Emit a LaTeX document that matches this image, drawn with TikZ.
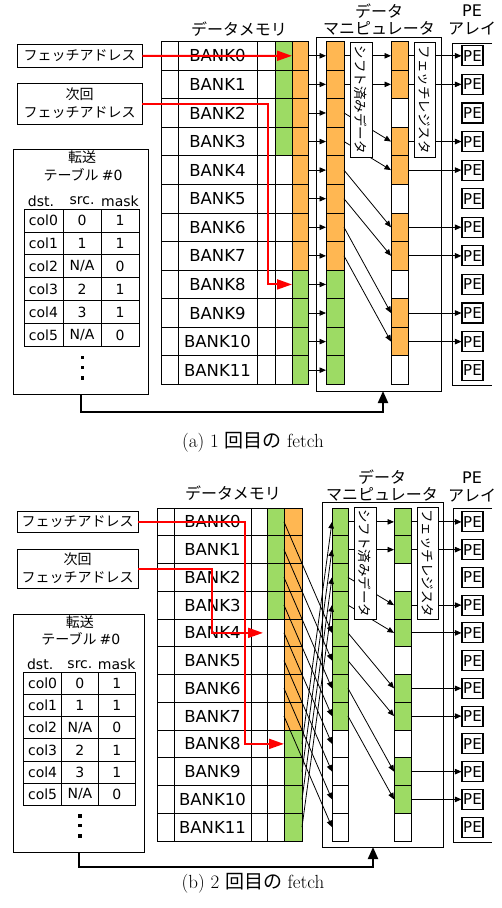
\documentclass[tikz,border=0pt]{standalone}
\usepackage{fontspec}
\setmainfont{DejaVu Sans}
\newfontfamily\jp{Noto Sans CJK JP}
\newfontfamily\capfont{Latin Modern Roman}
\usetikzlibrary{arrows.meta,calc}
\definecolor{org}{RGB}{255,183,82}
\definecolor{grn}{RGB}{157,219,100}
\newcommand\fs[1]{\fontsize{#1}{#1}\selectfont}
\def\na{N/A}
\tikzset{
  cell/.style={draw, line width=0.8pt, inner sep=0pt, outer sep=0pt, anchor=north west},
  arr/.style={line width=0.8pt, -{Triangle[length=6.5pt,width=5.5pt]}},
  redarr/.style={red, line width=2pt, -{Triangle[length=15pt,width=10pt]}},
  fbarr/.style={line width=2pt, -{Triangle[length=12pt,width=10pt]}},
  jbox/.style={draw, line width=0.9pt, fill=white, inner sep=0pt, font=\jp\fs{14}},
  vbox/.style={draw, line width=0.9pt, fill=white, inner sep=0pt, rotate=-90, font=\jp\fs{13.5}},
  pebox/.style={draw, line width=1.1pt, inner sep=0pt, minimum width=21pt, minimum height=20pt, font=\fs{15}},
  title/.style={font=\jp\fs{16}, inner sep=0pt, align=center},
  title2/.style={font=\jp\fontsize{16}{17.5}\selectfont, inner sep=0pt, align=center},
  ttxt/.style={font=\fs{14}, inner sep=0pt},
  captxt/.style={font=\capfont\fs{19}, inner sep=0pt},
}
\newcommand\xfer[3]{%
\begin{scope}[shift={(13,#2)},x=#3pt,y=-#3pt]
  \node[draw, line width=0.9pt, anchor=north west, inner sep=0pt, minimum width=#3*135pt, minimum height=#3*245pt] (#1-tt) at (0,0) {};
  \node[font=\jp\fs{14}, inner sep=0pt] (#1-tt1) at (69,8) {転送};
  \node[font=\jp\fs{14}, inner sep=0pt] (#1-tt2) at (70,26) {テーブル {\rmfamily\#0}};
  \node[ttxt] (#1-h1) at (28,52) {dst.};
  \node[ttxt] (#1-h2) at (69,52) {src.};
  \node[ttxt] (#1-h3) at (107,52) {mask};
  \draw[line width=0.8pt] (11,60) rectangle (126,197.4);
  \foreach \i in {1,...,5} \draw[line width=0.8pt] (11,60+22.9*\i) -- (126,60+22.9*\i);
  \draw[line width=0.8pt] (50,60) -- (50,197.4);
  \draw[line width=0.8pt] (88,60) -- (88,197.4);
  \foreach \i/\s/\m in {0/0/1,1/1/1,2/\na/0,3/2/1,4/3/1,5/\na/0}{
    \node[ttxt] (#1-c\i) at (30.5,71.45+22.9*\i) {col\i};
    \node[ttxt] (#1-s\i) at (69,71.45+22.9*\i) {\s};
    \node[ttxt] (#1-m\i) at (107,71.45+22.9*\i) {\m};
  }
  \fill (67.5,206.5) rectangle (71,210);
  \fill (67.5,216.5) rectangle (71,220);
  \fill (67.5,227) rectangle (71,230.5);
\end{scope}}
\begin{document}
\begin{tikzpicture}[x=1pt,y=-1pt]
\useasboundingbox (0,0) rectangle (502,908);
%%%%%%%%%%%%%%%% (a)
\node[title] (a-t1) at (239,29) {データメモリ};
\node[title2] (a-t2) at (379,19.5) {データ\\マニピュレータ};
\node[title2, font=\fontsize{16}{17.5}\selectfont] (a-t3) at (472,20) {PE\\{\jp アレイ}};
\node[draw, line width=0.9pt, anchor=north west, inner sep=0pt, minimum width=125pt, minimum height=354pt] (a-mb) at (316,37) {};
\draw[line width=0.9pt] (492,43) -- (452,43) -- (452,385) -- (492,385);
\foreach \r in {0,...,11}{
  \pgfmathsetmacro\yy{41.5+28.58*\r}
  \pgfmathtruncatemacro\mm{mod(\r,3)}
  \ifnum\r<4 \def\gc{grn}\else\def\gc{white}\fi
  \ifnum\r<8 \def\oc{org}\else\def\oc{grn}\fi
  \ifnum\mm=2 \def\qc{white}\else\def\qc{org}\fi
  \node[cell, minimum width=17pt, minimum height=28.58pt] (a-n-\r) at (161,\yy) {};
  \node[cell, minimum width=79pt, minimum height=28.58pt, font=\fs{16.5}] (a-b-\r) at (178,\yy) {BANK\r};
  \node[cell, minimum width=18pt, minimum height=28.58pt] (a-e-\r) at (257,\yy) {};
  \node[cell, fill=\gc, minimum width=17pt, minimum height=28.58pt] (a-g-\r) at (275,\yy) {};
  \node[cell, fill=\oc, minimum width=16pt, minimum height=28.58pt] (a-o-\r) at (292,\yy) {};
  \node[cell, fill=\oc, minimum width=18pt, minimum height=28.58pt] (a-p-\r) at (326,\yy) {};
  \node[cell, fill=\qc, minimum width=17pt, minimum height=28.58pt] (a-q-\r) at (391,\yy) {};
  \node[pebox] (a-pe-\r) at (472.5,\yy+14.29) {PE};
}
\foreach \r in {0,...,11} \draw[arr] (a-o-\r.east) -- (a-p-\r.west);
\foreach \s/\d in {0/0,1/1,2/3,3/4,4/6,5/7,6/9,7/10} \draw[arr] (a-p-\s.east) -- (a-q-\d.west);
\foreach \d in {0,1,3,4,6,7,9,10} \draw[arr] (a-q-\d.east) -- (a-pe-\d.west);
\node[vbox, minimum width=115pt, minimum height=22pt] (a-sh) at (361,99.5) {シフト済みデータ};
\node[vbox, minimum width=115pt, minimum height=21pt] (a-fr) at (424.5,99.5) {フェッチレジスタ};
\node[jbox, minimum width=125pt, minimum height=23pt] (a-f) at (79.5,55.8) {フェッチアドレス};
\node[jbox, minimum width=125pt, minimum height=41pt, align=center, font=\jp\fontsize{14}{18}\selectfont] (a-nf) at (79.5,103.5) {次回\\フェッチアドレス};
\xfer{a}{149}{1}
\coordinate (a-fb) at (383,391);
\draw[fbarr] (a-tt.south) |- (383,412) -- (a-fb);
\draw[redarr] (a-f.east) -- (a-o-0.west);
\draw[redarr] (a-nf.east) -| (268,200) |- (a-o-8.west);
\node[captxt] (a-cap) at (253,442) {(a) 1 {\jp 回目の} fetch};
%%%%%%%%%%%%%%%% (b)
\node[title] (b-t1) at (233,493) {データメモリ};
\node[title2] (b-t2) at (382,485.5) {データ\\マニピュレータ};
\node[title2, font=\fontsize{16}{17.5}\selectfont] (b-t3) at (472,487) {PE\\{\jp アレイ}};
\node[draw, line width=0.9pt, anchor=north west, inner sep=0pt, minimum width=121pt, minimum height=345pt] (b-mb) at (322,502) {};
\draw[line width=0.9pt] (492,508) -- (453,508) -- (453,842) -- (492,842);
\foreach \r in {0,...,11}{
  \pgfmathsetmacro\yy{508+27.75*\r}
  \pgfmathtruncatemacro\mm{mod(\r,3)}
  \ifnum\r<4 \def\gc{grn}\else\def\gc{white}\fi
  \ifnum\r<8 \def\oc{org}\def\pc{grn}\else\def\oc{grn}\def\pc{white}\fi
  \ifnum\mm=2 \def\qc{white}\else\def\qc{grn}\fi
  \node[cell, minimum width=17pt, minimum height=27.75pt] (b-n-\r) at (157,\yy) {};
  \node[cell, minimum width=77pt, minimum height=27.75pt, font=\fs{16.5}] (b-b-\r) at (174,\yy) {BANK\r};
  \node[cell, minimum width=16pt, minimum height=27.75pt] (b-e-\r) at (251,\yy) {};
  \node[cell, fill=\gc, minimum width=17pt, minimum height=27.75pt] (b-g-\r) at (267,\yy) {};
  \node[cell, fill=\oc, minimum width=18pt, minimum height=27.75pt] (b-o-\r) at (284,\yy) {};
  \node[cell, fill=\pc, minimum width=16pt, minimum height=27.75pt] (b-p-\r) at (332,\yy) {};
  \node[cell, fill=\qc, minimum width=17pt, minimum height=27.75pt] (b-q-\r) at (394,\yy) {};
  \node[pebox] (b-pe-\r) at (472.5,\yy+13.875) {PE};
}
\foreach \r in {0,...,7}{
  \pgfmathtruncatemacro\t{\r+4}
  \draw[arr] (b-o-\r.west) -- (b-p-\t.west);
}
\foreach \r in {8,...,11}{
  \pgfmathtruncatemacro\t{\r-8}
  \draw[arr] (b-o-\r.east) -- (b-p-\t.west);
}
\foreach \s/\d in {0/0,1/1,2/3,3/4,4/6,5/7,6/9,7/10} \draw[arr] (b-p-\s.east) -- (b-q-\d.west);
\foreach \d in {0,1,3,4,6,7,9,10} \draw[arr] (b-q-\d.east) -- (b-pe-\d.west);
\node[vbox, minimum width=112pt, minimum height=22pt] (b-sh) at (365,563) {シフト済みデータ};
\node[vbox, minimum width=112pt, minimum height=21pt] (b-fr) at (427.5,563) {フェッチレジスタ};
\node[jbox, minimum width=121pt, minimum height=20.6pt] (b-f) at (77.5,521.9) {フェッチアドレス};
\node[jbox, minimum width=121pt, minimum height=39pt, align=center, font=\jp\fontsize{14}{18}\selectfont] (b-nf) at (77.5,568.5) {次回\\フェッチアドレス};
\xfer{b}{614}{0.97}
\coordinate (b-fb) at (373,847);
\draw[fbarr] (b-tt.south) |- (373,867) -- (b-fb);
\draw[redarr] (b-f.east) -| (245,600) |- (b-o-8.west);
\draw[redarr, shorten >=4pt] (b-nf.east) -| (212,600) |- (b-g-4.west);
\node[captxt] (b-cap) at (253,883) {(b) 2 {\jp 回目の} fetch};
\end{tikzpicture}
\end{document}
